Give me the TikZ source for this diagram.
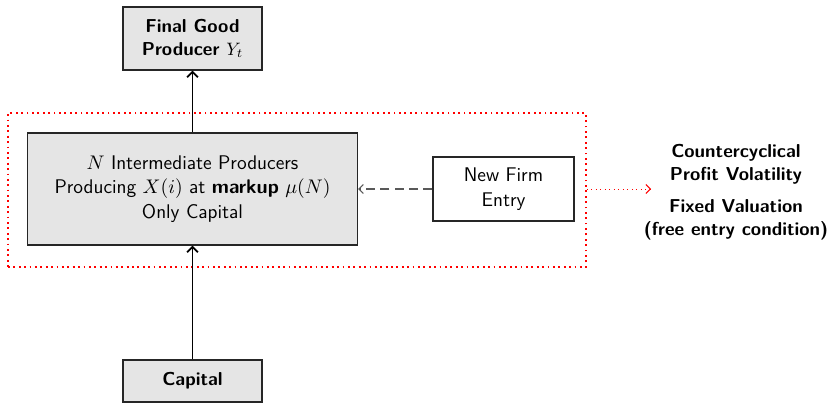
\documentclass[tikz,border=0pt]{standalone}
\usepackage{amsmath}
\renewcommand{\familydefault}{\sfdefault}
\usetikzlibrary{arrows.meta}
\newdimen\pxunit
\pxunit=0.556pt
\begin{document}
\begin{tikzpicture}[x=\pxunit,y=-\pxunit,
  box/.style={draw=black!85,line width=0.6pt,fill=black!10,align=center,inner sep=0pt},
  plainbox/.style={draw=black!85,line width=0.6pt,fill=white,align=center,inner sep=0pt},
  plaintext/.style={font=\fontsize{11}{13.6}\selectfont},
  boldtext/.style={font=\fontsize{10.4}{12.8}\selectfont\bfseries},
  flow/.style={draw=black,line width=1pt,-{Straight Barb[length=3pt,width=6pt]}},
  entry/.style={draw=black!65,line width=0.6pt,dash pattern=on 5pt off 3pt,-{Straight Barb[length=2.5pt,width=5pt]}},
  effect/.style={draw=red,line width=0.5pt,dash pattern=on 0.5pt off 2pt,-{Straight Barb[length=2.5pt,width=5pt]}},
  result/.style={align=center,boldtext}]
\useasboundingbox (0,0) rectangle (829,403);

% dotted frame around the intermediate sector and entry
\node[draw=red,line width=1pt,dotted,minimum width=578\pxunit,minimum height=154\pxunit,inner sep=0pt] (frame) at (297,190) {};

\node[box,boldtext,minimum width=139\pxunit,minimum height=63\pxunit] (final) at (192.5,38.5)
  {Final Good\\Producer $Y_t$};
\node[box,plaintext,minimum width=330\pxunit,minimum height=112\pxunit] (inter) at (192.5,189)
  {$N$ Intermediate Producers\\Producing $X(i)$ at \textbf{markup} $\mu(N)$\\Only Capital};
\node[plainbox,plaintext,minimum width=141\pxunit,minimum height=64\pxunit] (entry) at (503.5,189)
  {New Firm\\Entry};
\node[box,boldtext,minimum width=139\pxunit,minimum height=42\pxunit] (capital) at (192.5,381)
  {Capital};

\node[result] (volat) at (736,164) {Countercyclical\\Profit Volatility};
\node[result] (valu) at (736,220) {Fixed Valuation\\(free entry condition)};
\coordinate (effend) at (651,189);

\draw[flow] (inter.north) -- (final.south);
\draw[flow] (capital.north) -- (inter.south);
\draw[entry] (entry.west) -- (inter.east);
\draw[effect] (frame.east |- effend) -- (effend);
\end{tikzpicture}
\end{document}
